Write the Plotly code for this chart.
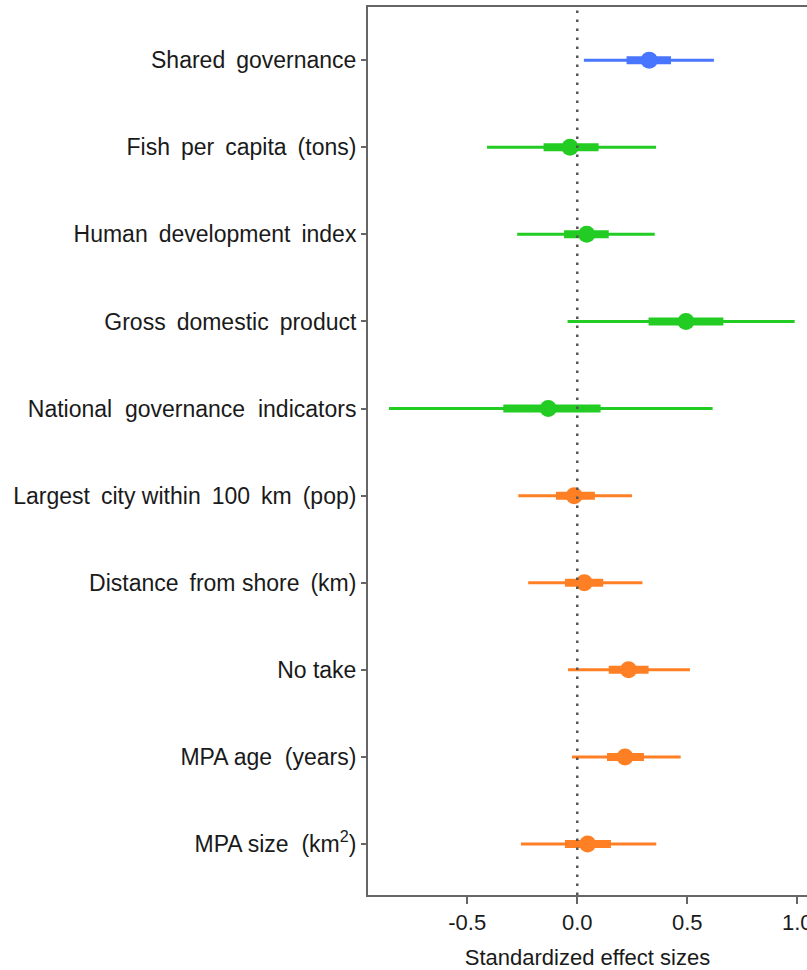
import plotly.graph_objects as go

W = " \u00a0"  # wide word gap as in the reference labels
T = " \u2009"  # slightly narrower wide gap

# Categories (top to bottom as displayed)
labels = [
    "Shared" + T + "governance",
    "Fish" + T + "per" + T + "capita" + T + "(tons)",
    "Human" + T + "development" + T + "index",
    "Gross" + T + "domestic" + T + "product",
    "National" + W + "governance" + W + "indicators",
    "Largest" + T + "city within" + T + "100" + T + "km" + T + "(pop)",
    "Distance" + T + "from shore" + T + "(km)",
    "No take",
    "MPA age" + W + "(years)",
    "MPA size" + W + "(km<sup>2</sup>)",
]
groups = ["gov", "soc", "soc", "soc", "soc", "mpa", "mpa", "mpa", "mpa", "mpa"]

estimate = [0.327, -0.033, 0.043, 0.494, -0.132, -0.014, 0.032, 0.233, 0.217, 0.047]
inner_lo = [0.224, -0.153, -0.060, 0.324, -0.336, -0.097, -0.056, 0.143, 0.135, -0.056]
inner_hi = [0.426, 0.097, 0.143, 0.664, 0.106, 0.080, 0.118, 0.324, 0.303, 0.153]
outer_lo = [0.030, -0.410, -0.273, -0.044, -0.856, -0.268, -0.223, -0.042, -0.024, -0.256]
outer_hi = [0.621, 0.358, 0.352, 0.988, 0.615, 0.249, 0.296, 0.512, 0.470, 0.359]

x_ticks = [-0.5, 0.0, 0.5, 1.0]
x_ticklabels = ["-0.5", "0.0", "0.5", "1.0"]

colors = {"gov": "#4876FF", "soc": "#22CC22", "mpa": "#FF7F24"}

fig = go.Figure()
for i, lab in enumerate(labels):
    c = colors[groups[i]]
    fig.add_trace(go.Scatter(x=[outer_lo[i], outer_hi[i]], y=[lab, lab], mode="lines",
                             line=dict(color=c, width=3), hoverinfo="skip", showlegend=False))
    fig.add_trace(go.Scatter(x=[inner_lo[i], inner_hi[i]], y=[lab, lab], mode="lines",
                             line=dict(color=c, width=8), hoverinfo="skip", showlegend=False))
    fig.add_trace(go.Scatter(x=[estimate[i]], y=[lab], mode="markers",
                             marker=dict(color=c, size=17, line=dict(width=0)), showlegend=False))

fig.add_shape(type="line", xref="x", yref="paper", x0=0, x1=0, y0=0, y1=1,
              line=dict(color="#555555", width=2.5, dash="2.5px,6.5px"), layer="above")

font = "Liberation Sans, Arial, sans-serif"
fig.update_layout(
    width=807, height=970,
    margin=dict(l=368, r=0, t=7, b=75, autoexpand=False),
    paper_bgcolor="white", plot_bgcolor="white",
    font=dict(family=font, size=22, color="#1a1a1a"),
    xaxis=dict(range=[-0.951, 1.044], tickvals=x_ticks, ticktext=x_ticklabels,
               ticklabeloverflow="allow", automargin=False,
               showgrid=False, zeroline=False, showline=True, mirror=True,
               linecolor="#666666", linewidth=2, ticks="outside", ticklen=7,
               tickcolor="#666666", tickwidth=2,
               title=dict(text="Standardized effect sizes", standoff=16,
                          font=dict(size=22, color="#1a1a1a")),
               tickfont=dict(size=22, color="#1a1a1a")),
    yaxis=dict(type="category", categoryorder="array", categoryarray=labels[::-1],
               range=[-0.585, 9.61], showgrid=False, zeroline=False, showline=True,
               mirror=False, linecolor="#666666", linewidth=2, ticks="outside",
               ticklen=5, tickcolor="#666666", tickwidth=1.5, automargin=False,
               tickfont=dict(size=23, color="#1a1a1a")),
)

fig.write_html("out.html", config={"displayModeBar": False},
               post_script="document.body.style.margin='0';document.body.style.overflow='hidden';")
